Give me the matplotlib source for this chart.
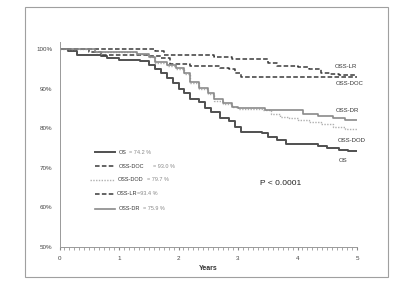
import matplotlib.pyplot as plt
from matplotlib.patches import Rectangle

plt.rcParams['font.family'] = ['Liberation Sans', 'DejaVu Sans']

# survival curves (years, percent)
os_t = [0, 0.15, 0.3, 0.7, 0.8, 1.0, 1.35, 1.5, 1.6, 1.7, 1.8, 1.9, 2.0, 2.1, 2.2, 2.35, 2.45, 2.55, 2.7, 2.85, 2.95, 3.05, 3.4, 3.5, 3.65, 3.8, 4.2, 4.35, 4.5, 4.7, 4.85, 5.0]
os_v = [100, 99.5, 98.6, 98.2, 97.8, 97.3, 96.9, 96.0, 95.0, 94.0, 92.8, 91.5, 89.9, 89.0, 87.5, 86.6, 85.2, 84.0, 82.5, 81.8, 80.2, 79.0, 78.7, 77.8, 77.0, 76.0, 76.0, 75.6, 75.0, 74.5, 74.2, 74.2]

doc_t = [0, 0.5, 0.7, 1.5, 1.7, 1.85, 2.2, 2.7, 2.85, 2.95, 3.05, 5.0]
doc_v = [100, 99.2, 98.5, 98.3, 97.8, 96.3, 95.7, 95.3, 95.0, 94.0, 93.0, 93.0]

dod_t = [0, 0.6, 1.3, 1.5, 1.6, 1.8, 1.95, 2.1, 2.2, 2.35, 2.5, 2.6, 2.75, 2.9, 3.0, 3.4, 3.55, 3.7, 3.85, 4.0, 4.2, 4.4, 4.6, 4.8, 5.0]
dod_v = [100, 99.2, 98.8, 97.9, 96.6, 95.7, 95.0, 93.8, 91.5, 90.0, 88.6, 87.0, 86.2, 85.3, 84.8, 84.6, 83.6, 82.8, 82.5, 82.2, 81.6, 81.0, 80.3, 79.9, 79.7]

lr_t = [0, 1.45, 1.6, 1.75, 2.5, 2.6, 2.9, 3.4, 3.5, 3.65, 4.0, 4.2, 4.4, 4.55, 4.7, 5.0]
lr_v = [100, 100, 99.5, 98.5, 98.5, 97.9, 97.5, 97.5, 96.5, 95.8, 95.5, 95.0, 94.0, 93.6, 93.4, 93.4]

dr_t = [0, 0.6, 1.3, 1.5, 1.6, 1.8, 1.95, 2.1, 2.2, 2.35, 2.5, 2.6, 2.75, 2.9, 3.0, 3.45, 3.9, 4.1, 4.35, 4.6, 4.8, 5.0]
dr_v = [100, 99.2, 98.8, 98.0, 96.7, 96.0, 95.2, 94.0, 91.6, 90.3, 88.8, 87.3, 86.4, 85.5, 85.1, 84.5, 84.5, 83.5, 83.0, 82.5, 82.1, 82.1]

names = ['OS', 'OSS-DOC', 'OSS-DOD', 'OSS-LR', 'OSS-DR']
legend_vals = ['= 74.2 %', '= 93.0 %', '= 79.7 %', '=93.4 %', '= 75.9 %']

series = [(os_t, os_v), (doc_t, doc_v), (dod_t, dod_v), (lr_t, lr_v), (dr_t, dr_v)]
styles = [dict(color='#505050', ls='-', lw=1.4),
          dict(color='#3a3a3a', ls=(0, (3, 1.5)), lw=1.1),
          dict(color='#b0b0b0', ls=(0, (1, 1)), lw=1.0),
          dict(color='#3a3a3a', ls=(0, (3, 1.5)), lw=1.1),
          dict(color='#8a8a8a', ls='-', lw=1.2)]

fig = plt.figure(figsize=(4, 2.83), dpi=100)
fig.patch.set_facecolor('white')
fig.patches.append(Rectangle((25 / 400, 1 - 277 / 283), 363 / 400, 270 / 283,
                             transform=fig.transFigure, fill=False,
                             edgecolor='#a0a0a0', lw=0.8))
ax = fig.add_axes([59.5 / 400, 1 - 247 / 283, 297.5 / 400, 205 / 283])

for (t, v), st in zip(series, styles):
    ax.step(t, v, where='post', **st)

ax.set_xlim(0, 5)
ax.set_ylim(50, 101.8)
ax.set_yticks([50, 60, 70, 80, 90, 100])
ax.set_yticklabels(['50%', '60%', '70%', '80%', '90%', '100%'])
ax.set_xticks([0, 1, 2, 3, 4, 5])
ax.set_xticks([i / 12 for i in range(61)], minor=True)
ax.tick_params(axis='both', labelsize=4.5, colors='#888888', labelcolor='#444444')
ax.tick_params(axis='y', length=0, pad=5)
ax.tick_params(axis='x', which='major', length=2.5, pad=4)
ax.tick_params(axis='x', which='minor', length=2, color='#999999')
for s in ['top', 'right']:
    ax.spines[s].set_visible(False)
for s in ['left', 'bottom']:
    ax.spines[s].set_color('#999999')
    ax.spines[s].set_linewidth(0.7)
ax.set_xlabel('Years', fontsize=5, fontweight='bold', color='#333333', labelpad=3)

# labels at the right end of each curve
end_labels = ['OSS-LR', 'OSS-DOC', 'OSS-DR', 'OSS-DOD', 'OS']
end_x = [0.926, 0.929, 0.929, 0.936, 0.939]
end_y = [0.88, 0.797, 0.665, 0.52, 0.423]
for lab, x, y in zip(end_labels, end_x, end_y):
    ax.text(x, y, lab, transform=ax.transAxes, fontsize=4.3,
            color='#333333', va='center')

# legend block
rows_y = [0.463, 0.395, 0.327, 0.259, 0.187]
name_x = [0.2, 0.2, 0.197, 0.193, 0.2]
val_x = [0.232, 0.315, 0.294, 0.262, 0.282]
for name, val, st, y, nx, vx in zip(names, legend_vals, styles, rows_y, name_x, val_x):
    x0 = 0.103 if name == 'OSS-DOD' else 0.119
    ax.plot([x0, 0.187], [y, y], transform=ax.transAxes, **st)
    ax.text(nx, y, name, transform=ax.transAxes, fontsize=4,
            color='#333333', va='center')
    ax.text(vx, y, val, transform=ax.transAxes, fontsize=4,
            color='#888888', va='center')

ax.text(0.674, 0.312, 'P < 0.0001', transform=ax.transAxes, fontsize=6,
        color='#222222', va='center')

fig.savefig('out.png', dpi=100)
